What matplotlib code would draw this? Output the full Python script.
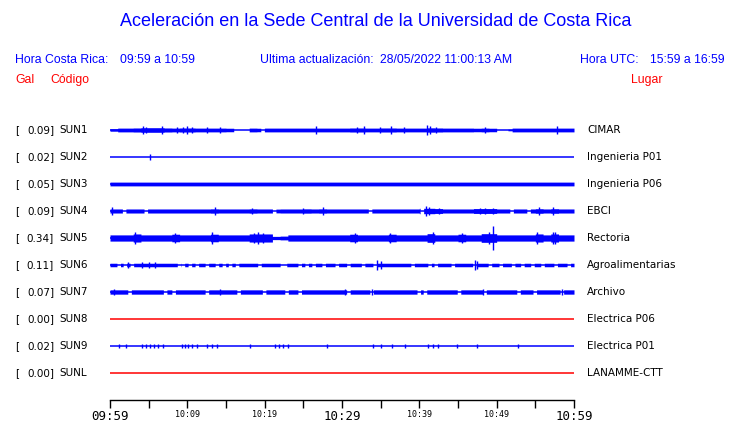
import matplotlib
matplotlib.use('Agg')
import matplotlib.pyplot as plt
import numpy as np

# ---------------- data ----------------
codes = ['SUN1', 'SUN2', 'SUN3', 'SUN4', 'SUN5', 'SUN6', 'SUN7', 'SUN8', 'SUN9', 'SUNL']
gal = [0.09, 0.02, 0.05, 0.09, 0.34, 0.11, 0.07, 0.00, 0.02, 0.00]
places = ['CIMAR', 'Ingenieria P01', 'Ingenieria P06', 'EBCI', 'Rectoria',
          'Agroalimentarias', 'Archivo', 'Electrica P06', 'Electrica P01', 'LANAMME-CTT']

start_hour, start_min = 9, 59
tick_minutes = list(range(0, 61, 5))
label_minutes = [0, 10, 20, 30, 40, 50, 60]
big_label_minutes = [0, 30, 60]

# per-minute envelope (relative amplitude) for each trace
env_sun1 = [0.9, 1.4, 1.4, 1.5, 1.7, 1.7, 1.7, 1.5, 1.4, 1.5,
            1.5, 1.4, 1.4, 1.4, 1.4, 1.3, 0.0, 0.0, 1.4, 1.3,
            1.4, 1.4, 1.4, 1.4, 1.4, 1.4, 1.4, 1.4, 1.4, 1.4,
            1.4, 1.5, 1.5, 1.4, 1.4, 1.5, 1.5, 1.4, 1.4, 1.4,
            1.4, 1.6, 1.5, 1.4, 1.4, 1.4, 1.4, 1.3, 1.4, 1.3,
            0.0, 0.6, 1.4, 1.4, 1.4, 1.4, 1.4, 1.4, 1.4, 1.4]
env_sun2 = [0.0] * 60
env_sun3 = [1.4] * 60
env_sun4 = [1.5, 1.5, 1.5, 1.5, 1.5, 1.5, 1.5, 1.5, 1.5, 1.5,
            1.5, 1.5, 1.5, 1.6, 1.5, 1.5, 1.5, 1.5, 1.6, 1.5,
            1.5, 1.4, 1.5, 1.5, 1.5, 1.6, 1.5, 1.6, 1.5, 1.5,
            1.5, 1.5, 1.5, 1.5, 1.5, 1.5, 1.5, 1.5, 1.5, 1.5,
            2.0, 2.0, 1.8, 1.5, 1.5, 1.5, 1.5, 1.8, 1.8, 1.8,
            1.5, 1.5, 1.5, 1.5, 1.5, 1.7, 1.5, 1.7, 1.5, 1.5]
env_sun5 = [2.3, 2.3, 2.3, 3.0, 2.3, 2.3, 2.3, 2.3, 2.8, 2.3,
            2.3, 2.3, 2.3, 2.8, 2.3, 2.3, 2.3, 2.3, 3.0, 3.0,
            3.0, 1.2, 1.4, 2.3, 2.3, 2.3, 2.3, 2.3, 2.3, 2.3,
            2.3, 2.8, 2.3, 2.3, 2.3, 2.3, 2.8, 2.3, 2.3, 2.3,
            2.3, 3.2, 2.3, 2.3, 2.3, 2.8, 2.3, 2.3, 3.2, 3.2,
            2.3, 2.3, 2.3, 2.3, 2.3, 3.0, 2.3, 3.0, 2.3, 2.3]
env_sun6 = [1.3] * 60
env_sun7 = [1.6] * 60
env_sun8 = [0.0] * 60
env_sun9 = [0.0] * 60
env_sunl = [0.0] * 60

# quiet stretches (start minute) inside each trace
gaps_sun1 = [19.5, 51.0]
gaps_sun4 = [1.6, 4.4, 21.0, 33.4, 40.1, 51.7, 53.9]
gaps_sun6 = [0.9, 1.7, 2.6, 8.7, 9.2, 10.1, 11.0, 12.3, 13.6, 14.5, 15.3, 16.2,
             19.1, 22.0, 22.4, 24.3, 25.2, 26.1, 27.4, 29.1, 30.6, 32.5, 34.0,
             38.9, 41.1, 41.9, 44.1, 46.9, 48.9, 50.3, 51.9, 53.1, 54.4, 55.7,
             57.4, 59.1]
gaps_sun7 = [2.3, 6.9, 8.0, 12.3, 16.4, 19.7, 22.6, 24.3, 30.6, 33.6, 39.7,
             40.5, 44.9, 48.2, 52.6, 54.7, 58.2]

# isolated peaks: (minute, relative amplitude)
peaks_sun1 = [(4.3, 3), (4.7, 2.5), (6.7, 3), (8.7, 2.5), (9.4, 2.5), (10.0, 3),
              (10.6, 2.5), (12.5, 2.5), (14.2, 2.5), (26.7, 3), (32.0, 2.5),
              (32.8, 3), (34.9, 2.5), (36.4, 3), (38.0, 2.5), (41.0, 3.5),
              (41.4, 3), (42.2, 2.5), (48.5, 2.5), (57.8, 3)]
peaks_sun2 = [(5.2, 2.0)]
peaks_sun4 = [(0.3, 3), (13.6, 3), (18.4, 2.5), (25.0, 2.5), (27.5, 3.0),
              (40.9, 3.5), (41.3, 3), (42.5, 2.5), (47.8, 2.5), (48.5, 2.5),
              (49.5, 2.5), (55.5, 3), (57.3, 3)]
peaks_sun5 = [(3.2, 4.5), (8.4, 4), (13.2, 4.5), (18.6, 4), (19.2, 4.5),
              (19.8, 4), (31.7, 4), (36.2, 4), (41.8, 4.5), (45.5, 4),
              (49.0, 4.5), (49.5, 9), (55.2, 4.5), (57.3, 4.5), (57.6, 4.5)]
peaks_sun6 = [(2.3, 2.5), (4.2, 2.5), (5.0, 2.5), (5.8, 2.5), (34.5, 4.0),
              (35.0, 3), (47.2, 3.5), (47.5, 3)]
peaks_sun7 = [(0.5, 2.5), (14.2, 2.5), (30.4, 2.5), (33.9, 2.5), (48.2, 2.5),
              (58.5, 2.5)]
peaks_sun9 = [(m, 1.2) for m in [1.2, 2.1, 4.1, 4.7, 5.2, 5.7, 6.2, 6.9, 9.3, 9.7,
                                 10.1, 10.6, 11.3, 12.5, 13.2, 13.8, 18.1, 21.3,
                                 21.9, 22.4, 23.0, 28.1, 34.0, 35.0, 36.5, 38.1,
                                 41.1, 41.8, 42.4, 44.9, 47.5, 52.8]]

envs = [env_sun1, env_sun2, env_sun3, env_sun4, env_sun5, env_sun6, env_sun7,
        env_sun8, env_sun9, env_sunl]
gaps = [gaps_sun1, [], [], gaps_sun4, [], gaps_sun6, gaps_sun7, [], [], []]
peaks = [peaks_sun1, peaks_sun2, [], peaks_sun4, peaks_sun5, peaks_sun6,
         peaks_sun7, [], peaks_sun9, []]

# ---------------- layout ----------------
W, H = 740, 423
BLUE = '#0000ff'
RED = '#ff0000'
fig = plt.figure(figsize=(W / 100, H / 100), dpi=100)

def fx(x):
    return x / W

def fy(y):
    return 1 - y / H

hfont = 'Liberation Sans'
hs = 8.8
fig.text(fx(376), fy(22), 'Aceleración en la Sede Central de la Universidad de Costa Rica',
         ha='center', va='center', color=BLUE, fontsize=13, family=hfont)
fig.text(fx(15), fy(60), 'Hora Costa Rica:', ha='left', va='center', color=BLUE,
         fontsize=hs, family=hfont)
fig.text(fx(120), fy(60), '09:59 a 10:59', ha='left', va='center', color=BLUE,
         fontsize=hs, family=hfont)
fig.text(fx(260), fy(60), 'Ultima actualización:', ha='left', va='center', color=BLUE,
         fontsize=hs, family=hfont)
fig.text(fx(380), fy(60), '28/05/2022 11:00:13 AM', ha='left', va='center', color=BLUE,
         fontsize=hs, family=hfont)
fig.text(fx(580), fy(60), 'Hora UTC:', ha='left', va='center', color=BLUE,
         fontsize=hs, family=hfont)
fig.text(fx(650), fy(60), '15:59 a 16:59', ha='left', va='center', color=BLUE,
         fontsize=hs, family=hfont)
fig.text(fx(15), fy(80), 'Gal', ha='left', va='center', color=RED, fontsize=hs, family=hfont)
fig.text(fx(50), fy(80), 'Código', ha='left', va='center', color=RED, fontsize=hs, family=hfont)
fig.text(fx(662), fy(80), 'Lugar', ha='right', va='center', color=RED, fontsize=hs, family=hfont)

row0, row_step = 130, 27
ax_top, ax_bot = 100, 400
ax = fig.add_axes([fx(110), fy(ax_bot), fx(574) - fx(110), (ax_bot - ax_top) / H])
n = len(codes)
ax.set_xlim(0, 60)
ax.set_ylim((ax_bot - row0) / row_step, -(row0 - ax_top) / row_step)
scale = 1.35 / row_step

t = np.arange(0, 60.0001, 0.02)
for i in range(n):
    col = RED if gal[i] == 0 else BLUE
    env = np.asarray(envs[i], dtype=float)
    e = env[np.minimum(t.astype(int), 59)].copy()
    for g in gaps[i]:
        e[(t >= g) & (t < g + 0.45)] = 0.0
    ax.fill_between(t, i - e * scale, i + e * scale, step='post', color=col, lw=0)
    ax.plot([0, 60], [i, i], color=col, lw=1.1, solid_capstyle='butt')
    if peaks[i]:
        pm = [p[0] for p in peaks[i]]
        pa = np.array([p[1] for p in peaks[i]])
        ax.vlines(pm, i - pa * scale, i + pa * scale, color=col, lw=1.0)
    fig.text(fx(15), fy(row0 + i * row_step), '[', ha='left', va='center',
             fontsize=7.5, color='black', family='DejaVu Sans')
    fig.text(fx(54), fy(row0 + i * row_step), f'{gal[i]:.2f}]',
             ha='right', va='center', fontsize=7.5, color='black', family='DejaVu Sans')
    fig.text(fx(59), fy(row0 + i * row_step), codes[i],
             ha='left', va='center', fontsize=7.5, color='black', family='DejaVu Sans')
    fig.text(fx(587), fy(row0 + i * row_step), places[i],
             ha='left', va='center', fontsize=7.5, color='black', family='DejaVu Sans')

for s in ['left', 'right', 'top']:
    ax.spines[s].set_visible(False)
ax.spines['bottom'].set_linewidth(1.0)
ax.set_yticks([])
ax.set_xticks(tick_minutes)

def tlabel(m):
    tot = start_hour * 60 + start_min + m
    return f'{tot // 60:02d}:{tot % 60:02d}'

labels = [tlabel(m) if m in label_minutes else '' for m in tick_minutes]
ax.set_xticklabels(labels)
ax.tick_params(axis='x', direction='out', length=6, width=1.0, pad=1.5)
for m, lab in zip(tick_minutes, ax.get_xticklabels()):
    lab.set_family('DejaVu Sans Mono')
    lab.set_fontsize(9 if m in big_label_minutes else 6)
ax.patch.set_alpha(0)

fig.savefig('out.png', dpi=100)
